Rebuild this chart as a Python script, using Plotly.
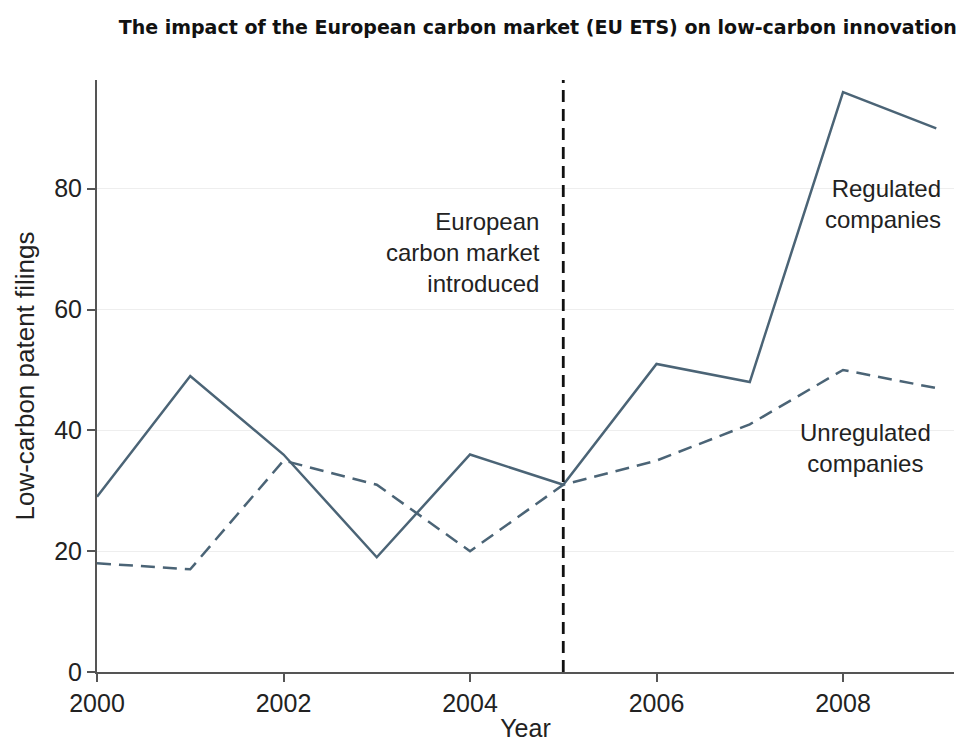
import plotly.graph_objects as go

years = [2000, 2001, 2002, 2003, 2004, 2005, 2006, 2007, 2008, 2009]
regulated = [29, 49, 36, 19, 36, 31, 51, 48, 96, 90]
unregulated = [18, 17, 35, 31, 20, 31, 35, 41, 50, 47]
x_ticks = [2000, 2002, 2004, 2006, 2008]
y_ticks = [0, 20, 40, 60, 80]
policy_year = 2005

line_color = "#4b6476"
font_family = "Liberation Sans, Arial, sans-serif"

fig = go.Figure()
fig.add_trace(go.Scatter(x=years, y=regulated, mode="lines",
                         line=dict(color=line_color, width=2.5),
                         name="Regulated companies", showlegend=False))
fig.add_trace(go.Scatter(x=years, y=unregulated, mode="lines",
                         line=dict(color=line_color, width=2.5, dash="14px,8px"),
                         name="Unregulated companies", showlegend=False))

fig.add_shape(type="line", x0=policy_year, x1=policy_year, y0=0, y1=1,
              xref="x", yref="paper",
              line=dict(color="#111111", width=2.8, dash="12px,7px"))

fig.add_annotation(x=2004.77, xref="x", xanchor="right",
                   y=77.2, yref="y", yanchor="top",
                   text="European<br>carbon market<br>introduced", showarrow=False,
                   align="right", font=dict(size=24, color="#222222", family=font_family))
fig.add_annotation(x=2009.07, xref="x", xanchor="right",
                   y=77.5, yref="y", yanchor="middle",
                   text="Regulated<br>companies", showarrow=False,
                   align="right", font=dict(size=24, color="#222222", family=font_family))
fig.add_annotation(x=2008.24, xref="x", xanchor="center",
                   y=37.1, yref="y", yanchor="middle",
                   text="Unregulated<br>companies", showarrow=False,
                   align="center", font=dict(size=24, color="#222222", family=font_family))

fig.update_layout(
    width=969, height=742,
    margin=dict(l=97, r=15, t=80, b=70),
    paper_bgcolor="white", plot_bgcolor="white",
    title=dict(text="<b>The impact of the European carbon market (EU ETS) on low-carbon innovation</b>",
               x=0.555, xanchor="center", y=0.963, yanchor="middle",
               font=dict(size=19, color="#111111", family="DejaVu Sans, sans-serif")),
    font=dict(family=font_family, color="#222222"),
    xaxis=dict(range=[2000, 2009.19], tickvals=x_ticks, ticks="outside", ticklen=8,
               tickcolor="#555555", tickwidth=1.5, showline=True, linecolor="#555555",
               linewidth=2, showgrid=False, zeroline=False, automargin=False,
               tickfont=dict(size=25, color="#222222"),
               title=dict(text="Year", font=dict(size=25, color="#222222"), standoff=4)),
    yaxis=dict(range=[0, 98], tickvals=y_ticks, ticks="outside", ticklen=8,
               tickcolor="#555555", tickwidth=1.5, showline=True, linecolor="#555555",
               linewidth=2, showgrid=True, gridcolor="#eeeeee", gridwidth=1,
               zeroline=False, automargin=False, tickfont=dict(size=25, color="#222222"),
               title=dict(text="Low-carbon patent filings", font=dict(size=26, color="#222222"),
                          standoff=12)),
)

fig.write_html("out.html")
